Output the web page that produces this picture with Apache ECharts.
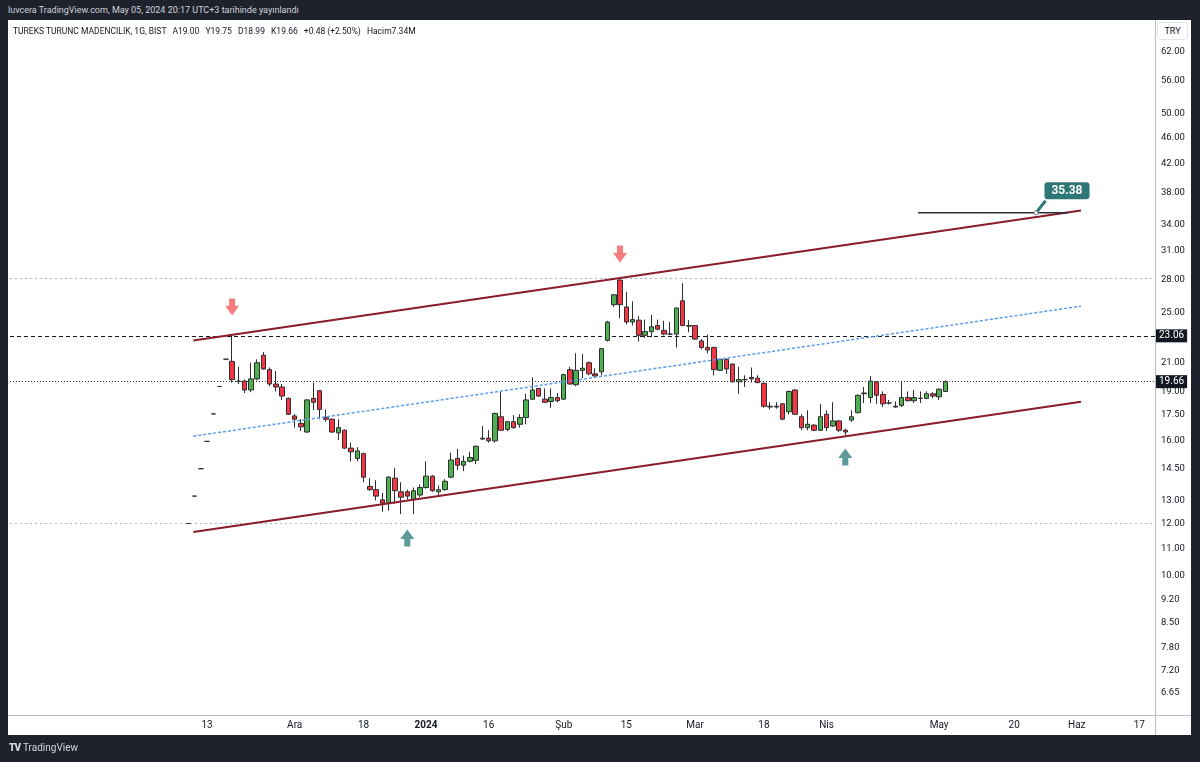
<!DOCTYPE html>
<html><head><meta charset="utf-8">
<script src="https://cdn.jsdelivr.net/npm/echarts@6/dist/echarts.min.js"></script>
<style>
html,body{margin:0;padding:0;width:1200px;height:762px;background:#1e222d;overflow:hidden;font-family:Roboto,'Liberation Sans',sans-serif;}
#hdr{position:absolute;left:8px;top:3px;color:#d1d4dc;font-size:9px;line-height:14px;white-space:nowrap;}
#panel{position:absolute;left:8px;top:20px;width:1183px;height:715px;background:#fff;}
#chart{position:absolute;left:0;top:0;width:1200px;height:762px;z-index:1;}
#legend{position:absolute;left:13px;top:25px;font-size:8.5px;line-height:12px;color:#131722;z-index:2;white-space:nowrap;}
#legend span{margin-left:4px;}
#vsep{position:absolute;left:1155px;top:20px;width:1px;height:715px;background:#b8bbc4;z-index:2;}
#hsep{position:absolute;left:8px;top:715px;width:1183px;height:1px;background:#b8bbc4;z-index:2;}
#try{position:absolute;left:1157px;top:22px;width:31px;height:18px;border:1px solid #e0e3eb;border-radius:3px;box-sizing:border-box;font-size:9px;line-height:16px;text-align:center;color:#131722;z-index:2;background:#fff;}
#logo{position:absolute;left:9px;top:742px;color:#d1d4dc;font-size:10px;line-height:12px;z-index:2;}
#logo b{font-weight:900;margin-right:3px;letter-spacing:-1px;}
</style></head>
<body>
<div id="hdr">luvcera TradingView.com, May 05, 2024 20:17 UTC+3 tarihinde yayınlandı</div>
<div id="panel"></div>
<div id="chart"></div>
<div id="legend">TUREKS TURUNC MADENCILIK, 1G, BIST <span>A19.00</span> <span>Y19.75</span> <span>D18.99</span> <span>K19.66</span> <span>+0.48 (+2.50%)</span> <span>Hacim7.34M</span></div>
<div id="vsep"></div>
<div id="hsep"></div>
<div id="try">TRY</div>
<div id="logo"><b>TV</b>TradingView</div>
<script>
// ---- data ----
const dates = [
 '2023-11-08','2023-11-09','2023-11-10','2023-11-13','2023-11-14','2023-11-15','2023-11-16','2023-11-17','2023-11-20','2023-11-21','2023-11-22','2023-11-23','2023-11-24','2023-11-27','2023-11-28','2023-11-29','2023-11-30',
 '2023-12-01','2023-12-04','2023-12-05','2023-12-06','2023-12-07','2023-12-08','2023-12-11','2023-12-12','2023-12-13','2023-12-14','2023-12-15','2023-12-18','2023-12-19','2023-12-20','2023-12-21','2023-12-22','2023-12-25','2023-12-26','2023-12-27','2023-12-28','2023-12-29',
 '2024-01-02','2024-01-03','2024-01-04','2024-01-05','2024-01-08','2024-01-09','2024-01-10','2024-01-11','2024-01-12','2024-01-15','2024-01-16','2024-01-17','2024-01-18','2024-01-19','2024-01-22','2024-01-23','2024-01-24','2024-01-25','2024-01-26','2024-01-29','2024-01-30','2024-01-31',
 '2024-02-01','2024-02-02','2024-02-05','2024-02-06','2024-02-07','2024-02-08','2024-02-09','2024-02-12','2024-02-13','2024-02-14','2024-02-15','2024-02-16','2024-02-19','2024-02-20','2024-02-21','2024-02-22','2024-02-23','2024-02-26','2024-02-27','2024-02-28','2024-02-29',
 '2024-03-01','2024-03-04','2024-03-05','2024-03-06','2024-03-07','2024-03-08','2024-03-11','2024-03-12','2024-03-13','2024-03-14','2024-03-15','2024-03-18','2024-03-19','2024-03-20','2024-03-21','2024-03-22','2024-03-25','2024-03-26','2024-03-27','2024-03-28','2024-03-29',
 '2024-04-01','2024-04-02','2024-04-03','2024-04-04','2024-04-05','2024-04-08','2024-04-09','2024-04-15','2024-04-16','2024-04-17','2024-04-18','2024-04-19','2024-04-22','2024-04-24','2024-04-25','2024-04-26','2024-04-29','2024-04-30',
 '2024-05-02','2024-05-03'
];
const open = [
 12.00,13.20,14.52,15.97,17.57,19.33,21.26,21.10,19.70,19.70,19.10,19.85,21.55,20.50,19.50,19.30,18.55,
 17.45,17.00,16.50,18.55,19.05,17.35,17.25,16.45,16.60,15.60,15.05,15.30,13.65,13.50,13.03,12.90,14.05,13.40,13.40,13.05,13.25,
 13.60,14.15,13.40,13.50,14.10,15.05,14.70,14.90,14.95,16.10,16.15,16.00,17.40,16.65,17.10,16.95,17.35,18.50,19.20,18.50,18.35,18.60,
 18.50,20.50,19.45,20.45,21.00,20.20,20.35,22.70,25.70,28.00,25.50,24.20,24.35,23.10,23.40,23.90,23.50,23.20,23.20,26.05,23.90,
 23.90,22.65,22.15,22.15,20.45,21.25,20.90,19.65,19.80,19.95,19.90,19.55,18.05,18.00,18.20,17.70,19.10,17.40,16.75,16.90,16.60,
 17.55,16.85,17.15,16.60,17.20,17.65,18.85,18.60,19.65,18.80,18.25,18.05,18.10,18.60,18.40,18.55,18.55,18.85,
 18.65,19.00
];
const high = [
 12.00,13.20,14.52,15.97,17.57,19.33,21.26,23.06,20.70,19.80,21.00,21.25,21.80,20.65,20.40,19.50,18.60,
 17.55,17.25,18.50,19.60,19.10,17.85,17.30,17.25,16.65,15.90,15.65,15.35,14.05,13.95,13.35,14.15,14.55,13.85,13.50,13.60,13.75,
 14.90,14.20,13.70,14.00,15.35,15.55,15.20,15.40,15.75,16.85,16.60,17.65,19.00,17.15,17.50,17.55,18.85,19.95,19.25,19.20,19.20,18.90,
 20.20,20.70,21.70,21.65,21.10,20.60,22.10,24.30,26.65,28.20,26.85,26.00,24.70,24.40,24.80,24.40,24.30,24.20,25.45,27.70,24.35,
 23.95,22.80,23.15,22.20,21.30,21.30,20.95,20.70,20.10,20.65,20.10,19.60,18.30,18.30,18.25,19.05,19.15,17.55,17.80,16.95,18.20,
 17.80,18.30,17.20,16.70,17.80,18.80,19.30,20.05,19.70,19.00,18.45,18.35,19.70,19.00,19.10,19.00,19.00,18.95,
 19.20,19.75
];
const low = [
 12.00,13.20,14.52,15.97,17.57,19.33,21.26,19.60,19.50,18.90,18.95,19.75,20.50,19.35,19.00,18.45,17.50,
 16.75,16.55,16.45,17.80,17.25,17.10,16.45,16.05,15.55,14.90,14.90,13.85,13.45,13.00,12.50,12.55,12.85,12.40,13.05,12.40,13.15,
 13.55,13.40,13.25,13.45,14.05,14.45,14.40,14.85,14.75,16.05,15.90,15.90,16.60,16.55,16.70,16.75,16.95,18.45,18.65,18.25,17.95,18.30,
 18.45,19.45,19.35,19.90,20.10,20.00,20.10,22.60,25.50,24.50,24.00,23.90,22.60,22.90,22.95,23.50,23.10,23.15,22.15,23.85,23.35,
 22.75,22.00,21.70,20.10,20.40,20.20,19.60,18.85,19.30,19.60,19.55,17.95,17.85,17.90,17.20,17.55,17.50,16.60,16.60,16.55,16.55,
 16.55,16.80,16.50,16.30,17.10,17.60,18.25,18.25,18.20,18.00,18.15,17.95,18.00,18.35,18.25,18.25,18.50,18.55,
 18.45,18.99
];
const close = [
 12.00,13.20,14.52,15.97,17.57,19.33,21.26,19.80,19.68,19.10,19.85,21.00,20.55,19.50,19.30,18.70,17.55,
 17.25,16.80,18.45,18.30,17.85,17.25,16.50,16.75,15.60,15.40,15.45,14.10,13.50,13.20,12.88,14.10,13.45,13.15,13.20,13.45,13.60,
 14.15,13.45,13.50,13.90,14.97,14.70,14.90,15.10,15.70,16.15,16.00,17.60,16.60,17.10,16.75,17.35,18.45,19.10,18.70,18.30,18.60,18.40,
 20.15,19.50,20.45,20.60,20.20,20.05,22.05,24.20,26.60,25.70,24.20,24.40,23.10,23.40,23.80,23.60,23.20,23.20,25.40,23.90,23.85,
 22.80,22.15,21.95,20.50,21.25,20.55,19.65,19.80,19.80,19.85,19.60,18.05,18.00,18.05,17.25,19.00,17.55,16.75,16.95,16.60,17.40,
 16.75,17.15,16.60,16.50,17.40,18.75,18.90,19.70,18.75,18.20,18.25,18.00,18.60,18.40,18.60,18.55,18.85,18.70,
 19.15,19.66
];
// price axis tick labels
const yTicks = [62, 56, 50, 46, 42, 38, 34, 31, 28, 25, 21, 19, 17.5, 16, 14.5, 13, 12, 11, 10, 9.2, 8.5, 7.8, 7.2, 6.65];
// time axis labels
const xTickLabels = [
 ['2023-11-13','13'],['2023-12-01','Ara'],['2023-12-18','18'],['2024-01-02','2024'],['2024-01-16','16'],
 ['2024-02-01','Şub'],['2024-02-15','15'],['2024-03-01','Mar'],['2024-03-18','18'],['2024-04-01','Nis'],
 ['2024-05-02','May'],['2024-05-20','20'],['2024-06-03','Haz'],['2024-06-17','17']
];
// horizontal levels
const levelHigh = 23.06, levelLast = 19.66, levelTop = 28.18, levelLow = 12.00;
// drawings: [barPosition, price]
const upperChannel = [[28.80, 22.69], [170.67, 35.66]];
const lowerChannel = [[28.80, 11.65], [170.67, 18.33]];
const midChannel   = [[28.80, 16.26], [170.67, 25.57]];
const targetLine   = [[144.62, 35.38], [168.60, 35.38]];
const targetPoint  = [163.48, 35.38];
const targetPointer = [[163.48, 35.38], [165.0, 36.9]];
const downArrows = [[35, 25.5], [97, 30.66]];
const upArrows = [[63, 11.41], [133, 15.13]];

// ---- build ----
const N = 183, padLeft = 28;
const cats = [];
for (let i = 0; i < padLeft; i++) cats.push('pre' + i);
dates.forEach(d => cats.push(d));
const fd = new Date(Date.UTC(2024, 4, 6));
while (cats.length < N) {
  const wd = fd.getUTCDay();
  if (wd !== 0 && wd !== 6) cats.push(fd.toISOString().slice(0, 10));
  fd.setUTCDate(fd.getUTCDate() + 1);
}
const candle = cats.map((c, i) => {
  const k = i - padLeft;
  return (k >= 0 && k < dates.length) ? [open[k], close[k], low[k], high[k]] : '-';
});
const labelMap = new Map(xTickLabels);

const yMin = 6.14, yMax = 69.23;
const red = '#8a1c2b';
const teal = '#2f7776';
const downPath = 'path://M4,0 L10,0 L10,7 L14,7 L7,16 L0,7 L4,7 Z';
const upPath = 'path://M7,0 L14,9 L10,9 L10,16 L4,16 L4,9 L0,9 Z';

const chart = echarts.init(document.getElementById('chart'), null, {renderer: 'canvas'});
chart.setOption({
  backgroundColor: 'transparent',
  animation: false,
  textStyle: {fontFamily: 'Roboto, Liberation Sans, sans-serif'},
  grid: {left: 10, top: 20, width: 1145, height: 696},
  xAxis: [{
    type: 'category', data: cats, boundaryGap: true,
    axisLine: {show: false}, axisTick: {show: false}, splitLine: {show: false},
    axisLabel: {
      interval: (idx, val) => labelMap.has(val),
      formatter: val => val === '2024-01-02' ? '{b|2024}' : labelMap.get(val),
      color: '#131722', fontSize: 10, margin: 4,
      rich: {b: {fontWeight: 'bold', fontSize: 10, color: '#131722'}}
    }
  }, {
    type: 'value', min: -0.5, max: N - 0.5, show: false
  }],
  yAxis: {
    type: 'log', logBase: 10, min: yMin, max: yMax, position: 'right',
    axisLine: {show: false}, axisTick: {show: false}, splitLine: {show: false},
    axisLabel: {customValues: yTicks, formatter: v => Number(v).toFixed(2), color: '#131722', fontSize: 9.5, margin: 6}
  },
  series: [
    {
      type: 'candlestick', data: candle, barWidth: 5, z: 5,
      itemStyle: {color: '#4caf50', color0: '#f23645', borderColor: '#2e2e2e', borderColor0: '#2e2e2e', borderColorDoji: '#2e2e2e', borderWidth: 1},
      markLine: {
        silent: true, symbol: 'none', animation: false,
        data: [
          {yAxis: levelTop, lineStyle: {color: '#b2b5be', type: [2, 3], width: 1}, label: {show: false}},
          {yAxis: levelLow, lineStyle: {color: '#b2b5be', type: [2, 3], width: 1}, label: {show: false}},
          {yAxis: levelHigh, lineStyle: {color: '#131722', type: [4, 3], width: 1},
            label: {show: true, position: 'end', distance: 1, formatter: '23.06', color: '#fff', backgroundColor: '#131722', padding: [2, 3, 1, 3], fontSize: 10}},
          {yAxis: levelLast, lineStyle: {color: '#3a3a3a', type: [1, 2], width: 1},
            label: {show: true, position: 'end', distance: 1, formatter: '19.66', color: '#fff', backgroundColor: '#131722', padding: [2, 3, 1, 3], fontSize: 10}}
        ]
      }
    },
    {type: 'line', xAxisIndex: 1, data: upperChannel, symbol: 'none', lineStyle: {color: red, width: 2}, z: 6, silent: true},
    {type: 'line', xAxisIndex: 1, data: lowerChannel, symbol: 'none', lineStyle: {color: red, width: 2}, z: 6, silent: true},
    {type: 'line', xAxisIndex: 1, data: midChannel, symbol: 'none', lineStyle: {color: '#5b9cf6', width: 1.5, type: [3, 2]}, z: 6, silent: true},
    {type: 'line', xAxisIndex: 1, data: targetLine, symbol: 'none', lineStyle: {color: '#2a2e39', width: 1.5}, z: 6, silent: true},
    {type: 'line', xAxisIndex: 1, data: targetPointer, symbol: 'none', lineStyle: {color: teal, width: 3}, z: 7, silent: true},
    {type: 'scatter', xAxisIndex: 1, data: [targetPoint], symbol: 'circle', symbolSize: 4, z: 8, silent: true,
      itemStyle: {color: '#fff', borderColor: '#787b86', borderWidth: 1, opacity: 1},
      label: {show: true, position: 'inside', offset: [31, -22], formatter: '35.38', color: '#fff', fontWeight: 'bold', fontSize: 12,
        backgroundColor: teal, borderRadius: 3, padding: [3, 7, 2, 7]}},
    {type: 'scatter', xAxisIndex: 1, data: downArrows, symbol: downPath, symbolSize: [14, 17], itemStyle: {color: '#f77c80', opacity: 1}, z: 8, silent: true},
    {type: 'scatter', xAxisIndex: 1, data: upArrows, symbol: upPath, symbolSize: [14, 17], itemStyle: {color: '#5d9a9a', opacity: 1}, z: 8, silent: true}
  ]
});
</script>
</body></html>
